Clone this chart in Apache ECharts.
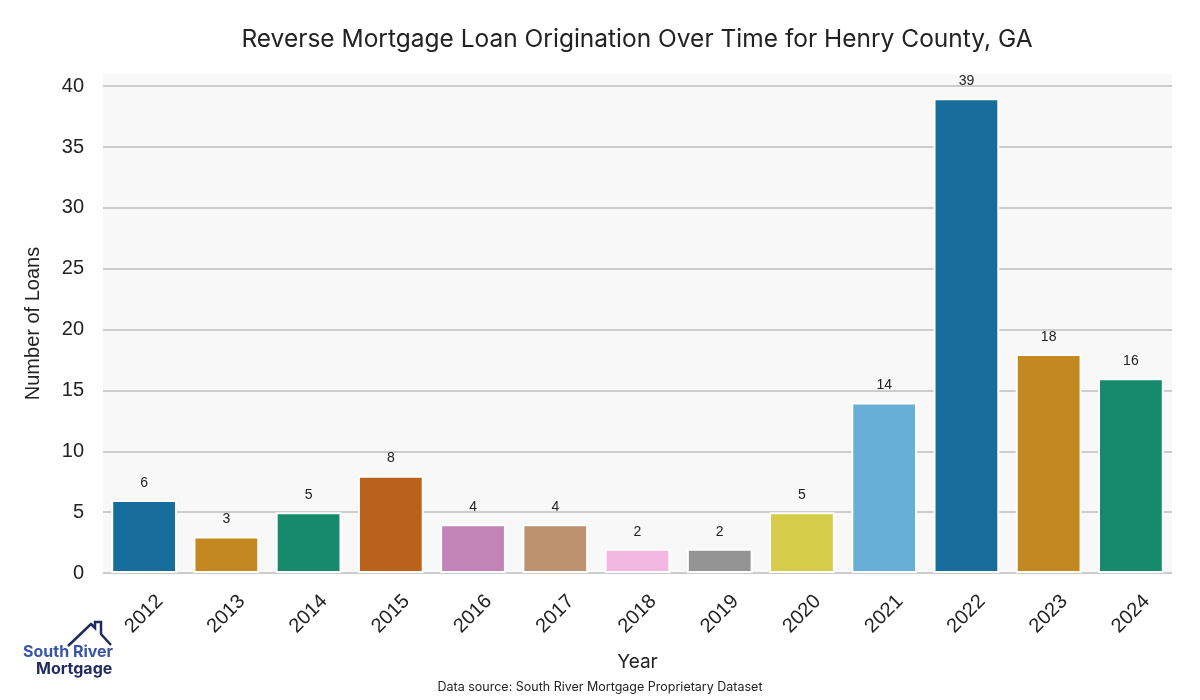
<!DOCTYPE html>
<html>
<head>
<meta charset="utf-8">
<script src="https://cdn.jsdelivr.net/npm/echarts@6/dist/echarts.min.js"></script>
<style>
html,body{margin:0;padding:0;background:#fff;}
#chart{width:1200px;height:700px;}
</style>
</head>
<body>
<div id="chart"></div>
<script>
const years = ['2012','2013','2014','2015','2016','2017','2018','2019','2020','2021','2022','2023','2024'];
const loans = [6, 3, 5, 8, 4, 4, 2, 2, 5, 14, 39, 18, 16];
const barColors = ['#176D9C','#C38820','#168A6A','#BA611B','#C283B6','#BD926E','#F2B8E0','#949494','#D5CD4A','#68AFD7','#176D9C','#C38820','#168A6A'];
const yTicks = [0, 5, 10, 15, 20, 25, 30, 35, 40];

const chart = echarts.init(document.getElementById('chart'), null, {renderer: 'canvas'});
const option = {
  animation: false,
  backgroundColor: '#ffffff',
  title: {
    text: 'Reverse Mortgage Loan Origination Over Time for Henry County, GA',
    left: 632, top: 22, textAlign: 'center',
    textStyle: {fontFamily: 'Inter', fontWeight: 'normal', fontSize: 24.5, color: '#222'}
  },
  grid: {
    left: 103, right: 28, top: 74, bottom: 127,
    show: true, backgroundColor: '#f8f8f8', borderWidth: 0
  },
  xAxis: {
    type: 'category',
    data: years,
    name: 'Year',
    nameLocation: 'middle',
    nameGap: 80,
    nameTextStyle: {fontFamily: 'Inter', fontSize: 19, color: '#222'},
    axisLine: {show: false},
    axisTick: {show: false},
    axisLabel: {rotate: 45, align: 'center', verticalAlign: 'middle', fontFamily: 'Liberation Sans', fontSize: 20, color: '#222', margin: 41}
  },
  yAxis: {
    type: 'value',
    min: 0, max: 41, interval: 5,
    name: 'Number of Loans',
    nameLocation: 'middle',
    nameGap: 60,
    nameTextStyle: {fontFamily: 'Liberation Sans', fontSize: 20, color: '#222'},
    axisLine: {show: false},
    axisTick: {show: false},
    axisLabel: {
      fontFamily: 'Liberation Sans', fontSize: 20, color: '#222', margin: 19,
      showMaxLabel: false,
      formatter: function (v) { return yTicks.indexOf(v) >= 0 ? String(v) : ''; }
    },
    splitLine: {show: true, showMaxLine: false, lineStyle: {color: '#cccccc', width: 2}}
  },
  series: [{
    type: 'bar',
    data: loans.map((v, i) => ({value: v, itemStyle: {color: barColors[i]}})),
    barCategoryGap: '20%',
    itemStyle: {borderColor: '#ffffff', borderWidth: 2},
    label: {show: true, position: 'top', distance: 10, fontFamily: 'Liberation Sans', fontSize: 14, color: '#222'}
  }],
  graphic: [
    {type: 'text', left: 'center', top: 681, style: {text: 'Data source: South River Mortgage Proprietary Dataset', fontFamily: 'Inter', fontSize: 12.5, fill: '#222'}},
    {type: 'polyline', shape: {points: [[68,646],[91,624],[95,628],[95,622],[101,622],[101,634],[111,645]]}, style: {stroke: '#1f2a5e', lineWidth: 2.5, fill: null}},
    {type: 'text', left: 23, top: 644, style: {text: 'South River', fontFamily: 'Inter', fontWeight: 'bold', fontSize: 16, fill: '#3a55a4'}},
    {type: 'text', left: 36, top: 661, style: {text: 'Mortgage', fontFamily: 'Inter', fontWeight: 'bold', fontSize: 16, fill: '#1f2a5e'}}
  ]
};
chart.setOption(option);
</script>
</body>
</html>
